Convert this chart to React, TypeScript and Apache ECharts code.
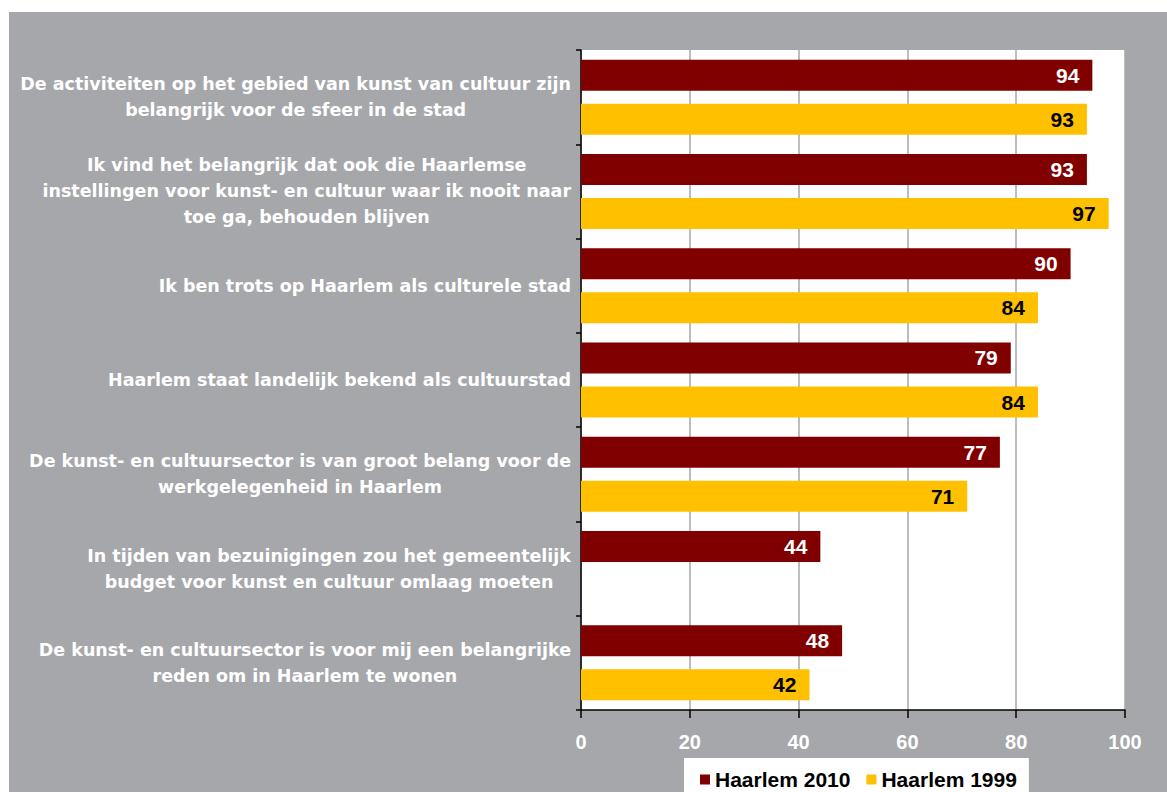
import React, { useEffect, useRef } from 'react';
import * as echarts from 'echarts';

const categories = [
  'De activiteiten op het gebied van kunst van cultuur zijn\nbelangrijk voor de sfeer in de stad',
  'Ik vind het belangrijk dat ook die Haarlemse\ninstellingen voor kunst- en cultuur waar ik nooit naar\ntoe ga, behouden blijven',
  'Ik ben trots op Haarlem als culturele stad',
  'Haarlem staat landelijk bekend als cultuurstad',
  'De kunst- en cultuursector is van groot belang voor de\nwerkgelegenheid in Haarlem',
  'In tijden van bezuinigingen zou het gemeentelijk\nbudget voor kunst en cultuur omlaag moeten',
  'De kunst- en cultuursector is voor mij een belangrijke\nreden om in Haarlem te wonen',
];
const values2010 = [94, 93, 90, 79, 77, 44, 48];
const values1999 = [93, 97, 84, 84, 71, null, 42];
const seriesNames = ['Haarlem 2010', 'Haarlem 1999'];
const xMin = 0;
const xMax = 100;
const xStep = 20;

const FONT = '"Liberation Sans", Arial, sans-serif';
const CAT_FONT = '"DejaVu Sans", "Liberation Sans", sans-serif';

export default function App() {
  const ref = useRef<HTMLDivElement>(null);
  useEffect(() => {
    if (!ref.current) return;
    const chart = echarts.init(ref.current, null, { renderer: 'svg' });
    chart.setOption({
      animation: false,
      backgroundColor: '#a6a7ab',
      textStyle: { fontFamily: FONT },
      legend: {
        data: seriesNames,
        left: 675,
        top: 746,
        backgroundColor: '#ffffff',
        padding: [11, 12, 16, 16],
        itemWidth: 10,
        itemHeight: 10,
        itemGap: 16,
        icon: 'rect',
        textStyle: { fontSize: 21, fontWeight: 'bold', color: '#000', fontFamily: FONT },
      },
      grid: {
        left: 572,
        right: 42,
        top: 38,
        bottom: 82,
        show: true,
        backgroundColor: '#ffffff',
        borderWidth: 0,
      },
      xAxis: {
        type: 'value',
        min: xMin,
        max: xMax,
        interval: xStep,
        axisLine: { show: true, lineStyle: { color: '#000', width: 1.5 } },
        axisTick: { show: true, length: 8, lineStyle: { color: '#000', width: 1.5 } },
        axisLabel: { margin: 22, color: '#fff', fontSize: 20, fontWeight: 'bold', fontFamily: FONT },
        splitLine: { show: true, lineStyle: { color: '#a6a7ab', width: 1.5 } },
      },
      yAxis: {
        type: 'category',
        data: categories,
        inverse: true,
        axisLine: { show: true, lineStyle: { color: '#000', width: 1.5 } },
        axisTick: { show: true, length: 5, lineStyle: { color: '#000', width: 1.5 } },
        axisLabel: {
          margin: 10,
          align: 'right',
          formatter: (v: string) => v.split('\n').map((l) => `{c|${l}}`).join('\n'),
          rich: {
            c: {
              align: 'center',
              color: '#fff',
              fontSize: 17.5,
              fontWeight: 'bold',
              fontFamily: CAT_FONT,
              lineHeight: 26,
            },
          },
        },
      },
      series: [
        {
          name: seriesNames[0],
          type: 'bar',
          data: values2010,
          barWidth: 31,
          barGap: '42%',
          itemStyle: { color: '#800000' },
          label: {
            show: true,
            position: 'insideRight',
            distance: 13,
            color: '#fff',
            fontSize: 21,
            fontWeight: 'bold',
            fontFamily: FONT,
          },
        },
        {
          name: seriesNames[1],
          type: 'bar',
          data: values1999,
          barWidth: 31,
          barGap: '42%',
          itemStyle: { color: '#ffc000' },
          label: {
            show: true,
            position: 'insideRight',
            distance: 13,
            color: '#000',
            fontSize: 21,
            fontWeight: 'bold',
            fontFamily: FONT,
          },
        },
      ],
    });
    return () => chart.dispose();
  }, []);
  return (
    <div
      ref={ref}
      style={{ position: 'absolute', left: 9, top: 12, width: 1158, height: 780 }}
    />
  );
}
